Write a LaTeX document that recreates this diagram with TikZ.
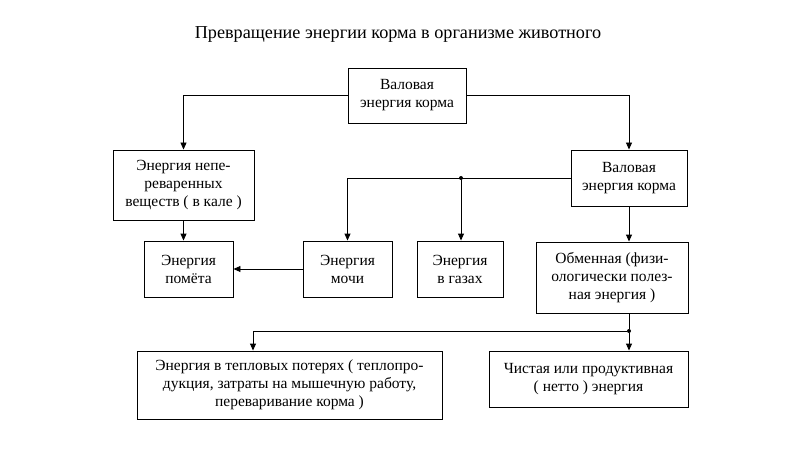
\documentclass[tikz,border=0pt]{standalone}
\usepackage{fontspec}
\setmainfont{Liberation Serif}
\usetikzlibrary{arrows.meta}

\begin{document}
\begin{tikzpicture}[x=1pt, y=-1pt, line width=0.9pt,
    box/.style={draw, rectangle, inner sep=0pt, align=center,
      font=\fontsize{15.5}{18}\selectfont},
    link/.style={-{Triangle[length=7pt,width=6pt]}},
    joint/.style={circle, fill, inner sep=0pt, minimum size=4pt}]
    \useasboundingbox (0,0) rectangle (800,449);
    \node (title) at (398,34) {\fontsize{18.2}{21}\selectfont Превращение энергии корма в организме животного};
    \node[box, minimum width=118, minimum height=55] (feed) at (407,95.5) {Валовая\\энергия корма};
    \node[box, minimum width=141, minimum height=70] (faeces) at (183.5,185) {Энергия непе-\\реваренных\\веществ ( в кале )};
    \node[box, minimum width=116, minimum height=56] (gross) at (629,178) {Валовая\\энергия корма};
    \node[box, minimum width=89, minimum height=56] (dung) at (188.5,269) {Энергия\\помёта};
    \node[box, minimum width=89, minimum height=56] (urine) at (347.5,269) {Энергия\\мочи};
    \node[box, minimum width=86, minimum height=56] (gas) at (460,269) {Энергия\\в газах};
    \node[box, minimum width=152, minimum height=71] (metab) at (612,277.5) {Обменная (физи-\\ологически полез-\\ная энергия )};
    \node[box, minimum width=305, minimum height=68] (heat) at (289.5,385) {Энергия в тепловых потерях ( теплопро-\\дукция, затраты на мышечную работу,\\переваривание корма )};
    \node[box, minimum width=199, minimum height=56] (net) at (588.5,379) {Чистая или продуктивная\\( нетто ) энергия};
    \node[joint] (fork) at (461,178) {};
    \node[joint] (split) at (629,331) {};
    \coordinate (bend) at (253,331);
    \draw[link] (feed.west) -| (faeces.north);
    \draw[link] (feed.east) -| (gross.north);
    \draw[link] (gross.west) -| (urine.north);
    \draw[link] (fork) -- (fork |- gas.north);
    \draw[link] (faeces.south) -- (faeces.south |- dung.north);
    \draw[link] (urine.west) -- (dung.east);
    \draw[link] (gross.south) -- (gross.south |- metab.north);
    \draw (gross.south |- metab.south) -- (split);
    \draw[link] (split) -- (split |- net.north);
    \draw[link] (split) -- (bend) -- (bend |- heat.north);
\end{tikzpicture}
\end{document}
